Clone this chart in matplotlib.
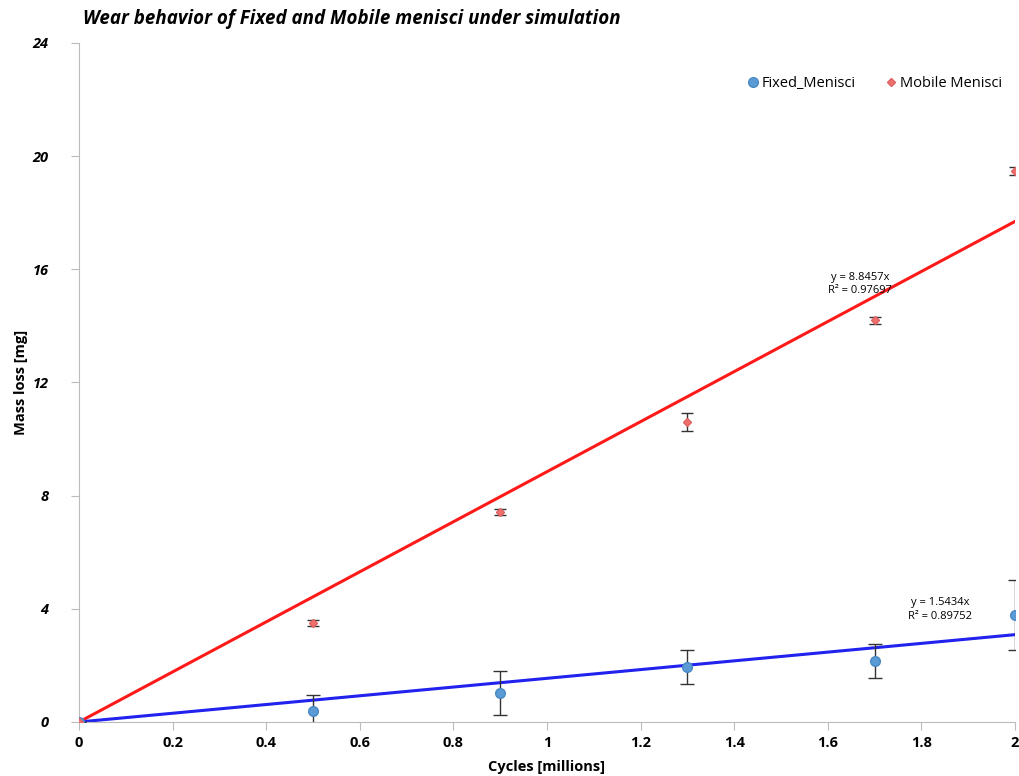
import matplotlib
matplotlib.use("Agg")
import matplotlib.pyplot as plt
import numpy as np

cycles = [0, 0.5, 0.9, 1.3, 1.7, 2.0]
fixed_mean = [0, 0.39, 1.02, 1.94, 2.15, 3.78]
fixed_err = [0, 0.55, 0.77, 0.6, 0.6, 1.25]
mobile_mean = [0, 3.5, 7.42, 10.6, 14.2, 19.47]
mobile_err = [0, 0.1, 0.1, 0.33, 0.12, 0.15]
fixed_slope = 1.5434
mobile_slope = 8.8457
xticks = [0, 0.2, 0.4, 0.6, 0.8, 1, 1.2, 1.4, 1.6, 1.8, 2]
yticks = [0, 4, 8, 12, 16, 20, 24]

plt.rcParams['font.family'] = ['Open Sans', 'DejaVu Sans']

fig = plt.figure(figsize=(10.19, 7.76), dpi=100)
ax = fig.add_axes([0.0775, 0.0696, 0.9185, 0.875])

xfit = np.array([0, 2])
ax.plot(xfit, mobile_slope * xfit, color='#ff1a1a', lw=2.2, zorder=2)
ax.plot(xfit, fixed_slope * xfit, color='#2222ee', lw=2.2, zorder=2)

ef = ax.errorbar(cycles, fixed_mean, yerr=fixed_err, fmt='o', color='#5b9bd5',
                 ms=7, mec='#4a8ac4', ecolor='#333333', elinewidth=1, capsize=5,
                 capthick=1, zorder=3)
em = ax.errorbar(cycles, mobile_mean, yerr=mobile_err, fmt='D', color='#f07070',
                 ms=4, mec='#e06060', ecolor='#333333', elinewidth=1, capsize=4,
                 capthick=1, zorder=3)

ax.set_xlim(0, 2)
ax.set_ylim(0, 24)
ax.set_xticks(xticks)
ax.set_xticklabels([f"{t:g}" for t in xticks], fontweight='bold', fontsize=10.5)
ax.set_yticks(yticks)
ax.set_yticklabels([str(t) for t in yticks], fontweight='bold', style='italic', fontsize=10.5)
for s in ['top', 'right']:
    ax.spines[s].set_visible(False)
for s in ['left', 'bottom']:
    ax.spines[s].set_color('#bbbbbb')
ax.tick_params(colors='#bbbbbb', labelcolor='black', length=6, direction='out')
ax.tick_params(axis='x', pad=4)
ax.tick_params(axis='y', pad=16)

ax.set_xlabel('Cycles [millions]', fontweight='bold', fontsize=10.5, labelpad=7)
ax.set_ylabel('Mass loss [mg]', fontweight='bold', fontsize=10.5, labelpad=3)

ax.text(1.669, 15.72, 'y = 8.8457x', ha='center', va='center', fontsize=8)
ax.text(1.669, 15.26, 'R² = 0.97697', ha='center', va='center', fontsize=8)
ax.text(1.84, 4.22, 'y = 1.5434x', ha='center', va='center', fontsize=8)
ax.text(1.84, 3.72, 'R² = 0.89752', ha='center', va='center', fontsize=8)

ax.legend([ef[0], em[0]], ['Fixed_Menisci', 'Mobile Menisci'], loc='upper right',
          bbox_to_anchor=(1.0, 0.97), ncol=2, frameon=False, fontsize=10.5,
          handletextpad=0.0, columnspacing=1.8, handlelength=1.2)

fig.text(0.081, 0.976, 'Wear behavior of Fixed and Mobile menisci under simulation',
         fontweight='bold', style='italic', fontsize=13.5, ha='left', va='center')

fig.savefig('out.png', dpi=100, facecolor='white')
